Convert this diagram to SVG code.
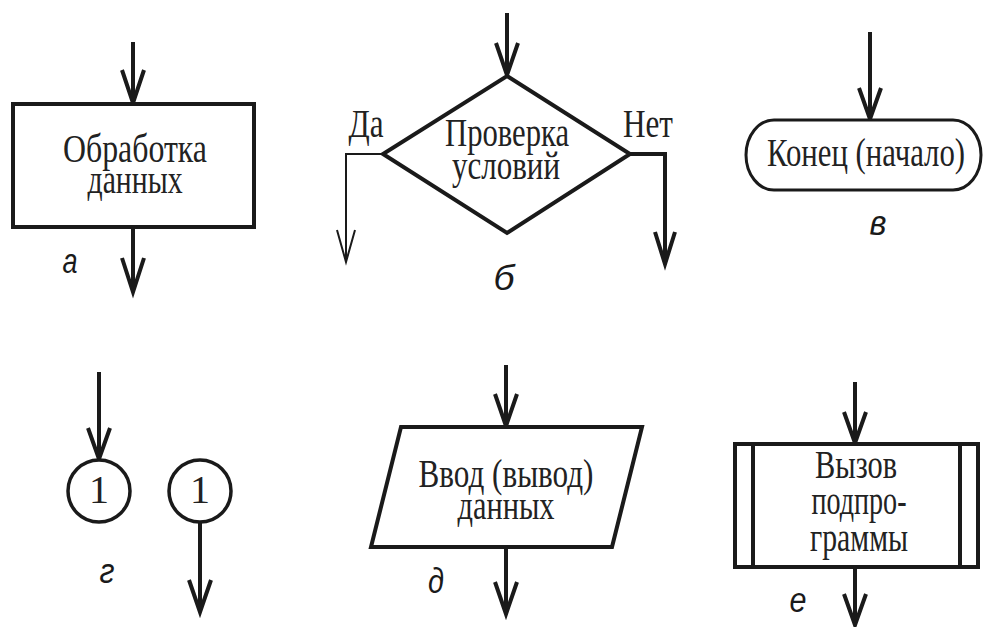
<svg xmlns="http://www.w3.org/2000/svg" width="983" height="627" viewBox="0 0 983 627">
<style>
.shape{fill:#fff;stroke:#1a1a1a;stroke-width:4;stroke-linejoin:miter}
.ln{fill:none;stroke:#1a1a1a;stroke-width:4;stroke-linejoin:miter;stroke-miterlimit:10}
.thin{fill:none;stroke:#1a1a1a;stroke-width:2;stroke-linejoin:miter;stroke-miterlimit:10}
.t{font-family:"Liberation Serif","Times New Roman",serif;font-size:40px;fill:#222;text-anchor:middle}
.lab{font-family:"Liberation Sans",Arial,sans-serif;font-size:35px;font-style:italic;fill:#1a1a1a;text-anchor:middle}
</style>
<rect width="983" height="627" fill="#fff"/>
<g id="connectors">
  <path class="ln" d="M133 42V103M122 70L133 103L144 70"/>
  <path class="ln" d="M133 227V292M122 258L133 292L144 258"/>
  <path class="ln" d="M507 13V75M496 43L507 75L518 43"/>
  <path class="thin" d="M383 154H346V262M337 230L346 262L355 230"/>
  <path class="ln" d="M630 154H665V264M655 232L665 264L675 232"/>
  <path class="ln" d="M870 32V119M859 88L870 119L881 88"/>
  <path class="ln" d="M99 372V459M88 428L99 459L110 428"/>
  <path class="ln" d="M200 522V612M189 580L200 612L211 580"/>
  <path class="ln" d="M506 365V426M495 394L506 426L517 394"/>
  <path class="ln" d="M506 547V614M495 582L506 614L517 582"/>
  <path class="ln" d="M855 382V443M844 412L855 443L866 412"/>
  <path class="ln" d="M855 567V625M844 594L855 625L866 594"/>
</g>
<g id="node-a">
  <rect class="shape" x="13" y="104" width="241" height="123"/>
  <text class="t" x="135" y="162" textLength="144" lengthAdjust="spacingAndGlyphs">Обработка</text>
  <text class="t" x="135" y="193" textLength="95" lengthAdjust="spacingAndGlyphs">данных</text>
  <text class="lab" x="70" y="273" textLength="15" lengthAdjust="spacingAndGlyphs">а</text>
</g>
<g id="node-b">
  <polygon class="shape" points="507,76 630,154 507,233 383,154"/>
  <text class="t" x="507" y="146" font-size="37" textLength="124" lengthAdjust="spacingAndGlyphs">Проверка</text>
  <text class="t" x="506" y="179" font-size="37" textLength="108" lengthAdjust="spacingAndGlyphs">условий</text>
  <text class="t" x="366" y="137" font-size="36" textLength="35" lengthAdjust="spacingAndGlyphs">Да</text>
  <text class="t" x="648" y="137" font-size="36" textLength="50" lengthAdjust="spacingAndGlyphs">Нет</text>
  <text class="lab" x="504" y="290" textLength="21" lengthAdjust="spacingAndGlyphs">б</text>
</g>
<g id="node-v">
  <rect x="746" y="120" width="235" height="70" rx="28" ry="35" fill="#fff" stroke="#1a1a1a" stroke-width="3"/>
  <text class="t" x="866" y="166" font-size="33" textLength="198" lengthAdjust="spacingAndGlyphs">Конец (начало)</text>
  <text class="lab" x="878" y="235" textLength="17" lengthAdjust="spacingAndGlyphs">в</text>
</g>
<g id="node-g">
  <circle cx="99" cy="491" r="31" fill="#fff" stroke="#1a1a1a" stroke-width="3.5"/>
  <text class="t" x="99" y="503" font-size="34">1</text>
  <circle cx="200" cy="491" r="31" fill="#fff" stroke="#1a1a1a" stroke-width="3.5"/>
  <text class="t" x="200" y="503" font-size="34">1</text>
  <text class="lab" x="107" y="583" textLength="15" lengthAdjust="spacingAndGlyphs">г</text>
</g>
<g id="node-d">
  <polygon class="shape" points="401,427 642,427 612,547 371,547"/>
  <text class="t" x="506" y="487" textLength="175" lengthAdjust="spacingAndGlyphs">Ввод (вывод)</text>
  <text class="t" x="506" y="519" textLength="97" lengthAdjust="spacingAndGlyphs">данных</text>
  <text class="lab" x="436" y="593" textLength="16" lengthAdjust="spacingAndGlyphs">д</text>
</g>
<g id="node-e">
  <rect class="shape" x="735" y="444" width="243" height="123"/>
  <line class="ln" x1="753" y1="444" x2="753" y2="567"/>
  <line class="ln" x1="960" y1="444" x2="960" y2="567"/>
  <text class="t" x="856" y="478" font-size="37" textLength="82" lengthAdjust="spacingAndGlyphs">Вызов</text>
  <text class="t" x="859" y="514" font-size="37" textLength="95" lengthAdjust="spacingAndGlyphs">подпро-</text>
  <text class="t" x="859" y="551" font-size="37" textLength="98" lengthAdjust="spacingAndGlyphs">граммы</text>
  <text class="lab" x="798" y="612" textLength="17" lengthAdjust="spacingAndGlyphs">е</text>
</g>
</svg>
